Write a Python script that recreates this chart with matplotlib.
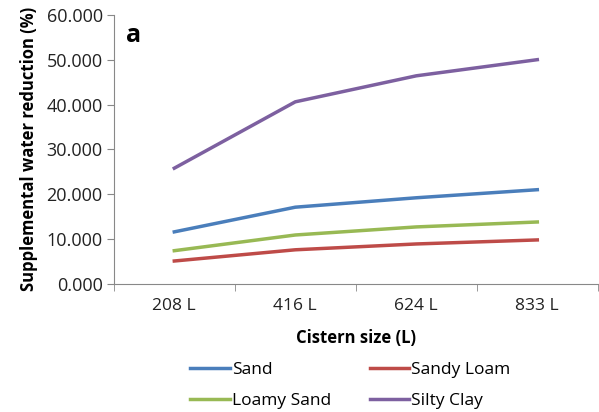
import matplotlib
matplotlib.use('Agg')
import matplotlib.pyplot as plt

plt.rcParams['font.family'] = ['Open Sans', 'DejaVu Sans']

sizes = ['208 L', '416 L', '624 L', '833 L']
sand = [11.6, 17.1, 19.2, 21.0]
sandy_loam = [5.1, 7.6, 8.9, 9.8]
loamy_sand = [7.4, 10.9, 12.7, 13.8]
silty_clay = [25.8, 40.6, 46.4, 50.0]

fig = plt.figure(figsize=(5.99, 4.12), dpi=100)
ax = fig.add_axes([0.19, 0.311, 0.808, 0.653])
x = range(len(sizes))
ax.plot(x, sand, color='#4a7ebb', lw=2.5, label='Sand')
ax.plot(x, sandy_loam, color='#be4b48', lw=2.5, label='Sandy Loam')
ax.plot(x, loamy_sand, color='#98b954', lw=2.5, label='Loamy Sand')
ax.plot(x, silty_clay, color='#7d60a0', lw=2.5, label='Silty Clay')

ax.set_xlim(-0.5, 3.5)
ax.set_ylim(0, 60)
ax.set_yticks(range(0, 61, 10))
ax.set_yticklabels(['%.3f' % v for v in range(0, 61, 10)], fontsize=13, color='#222222')
ax.set_xticks(list(x))
ax.set_xticklabels(sizes, fontsize=12.5, color='#222222')
ax.set_xticks([-0.5, 0.5, 1.5, 2.5, 3.5], minor=True)
ax.tick_params(axis='x', which='major', length=0, pad=10)
ax.tick_params(axis='x', which='minor', length=5, color='#888888')
ax.tick_params(axis='y', length=5, color='#888888', pad=3)
for s in ['top', 'right']:
    ax.spines[s].set_visible(False)
for s in ['left', 'bottom']:
    ax.spines[s].set_color('#888888')

ax.set_xlabel('Cistern size (L)', fontsize=12, fontweight='bold', labelpad=11)
ax.set_ylabel('Supplemental water reduction (%)', fontsize=12, fontweight='bold', labelpad=6)
ax.text(0.025, 0.9, 'a', transform=ax.transAxes, fontsize=18, fontweight='bold')

h, l = ax.get_legend_handles_labels()
order = [0, 2, 1, 3]
fig.legend([h[i] for i in order], [l[i] for i in order], ncol=2, frameon=False,
           loc='upper center', bbox_to_anchor=(0.585, 0.16), fontsize=12.5,
           handlelength=2.3, handletextpad=0.1, columnspacing=2.2, labelspacing=0.85)

fig.savefig('out.png', dpi=100)
